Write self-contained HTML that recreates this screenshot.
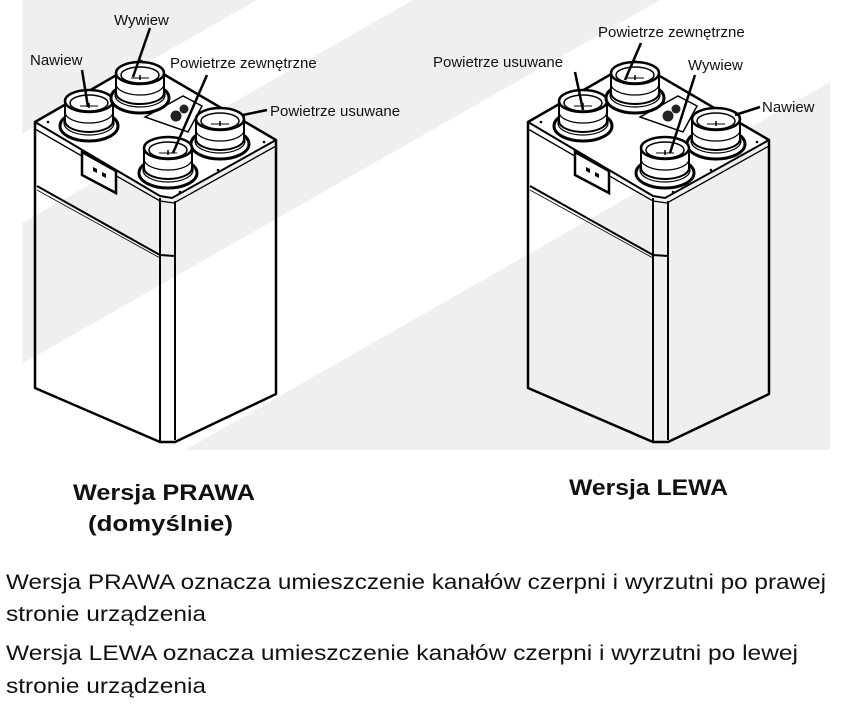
<!DOCTYPE html>
<html><head><meta charset="utf-8"><style>
html,body{margin:0;padding:0;background:#fff;width:855px;height:726px;overflow:hidden}
svg{display:block;overflow:hidden}
text{font-family:"Liberation Sans",sans-serif;fill:#111}
</style></head><body>
<svg width="855" height="726" viewBox="0 0 855 726" xmlns="http://www.w3.org/2000/svg">
<defs>
<clipPath id="bg"><rect x="22" y="0" width="808" height="450"/></clipPath>
<g id="unit">
  <path d="M35,122 L141,61 L276,140 L172,200 L160,198 Z" fill="#fff" stroke="none"/>
  <path d="M35,122 L141,61 L276,140 L276,394 L175,442 L160,442 L35,388 Z" fill="none" stroke="#000" stroke-width="2.5" stroke-linejoin="round"/>
  <path d="M35,122 L160,196 L172,198 L276,140" fill="none" stroke="#000" stroke-width="2"/>
  <path d="M35,129 L160,201 L174,203 L276,146" fill="none" stroke="#000" stroke-width="1.3"/>
  <line x1="160" y1="198" x2="160" y2="442" stroke="#000" stroke-width="2"/>
  <line x1="175" y1="201" x2="175" y2="440" stroke="#000" stroke-width="2"/>
  <path d="M37,186 L160,255 L175,256" fill="none" stroke="#000" stroke-width="2"/>
  <path d="M37,190 L160,258" fill="none" stroke="#000" stroke-width="0.8"/>
  <polygon points="82,152 116,171 116,193 82,175" fill="#fff" stroke="#000" stroke-width="2.5"/>
  <path d="M93,167 l4,2 v4 l-4,-2z M102,172 l4,2 v4 l-4,-2z" fill="#000"/>
  <circle cx="48" cy="122" r="1.3" fill="#000"/><circle cx="264" cy="142" r="1.3" fill="#000"/>
  <circle cx="218" cy="170" r="1.3" fill="#000"/><circle cx="180" cy="192" r="1.3" fill="#000"/>
</g>
<g id="port">
  <ellipse cx="0" cy="36" rx="29" ry="15" fill="#fff" stroke="#000" stroke-width="3"/>
  <ellipse cx="0" cy="33" rx="25" ry="12" fill="none" stroke="#000" stroke-width="1.2"/>
  <path d="M-24,11 L-24,31 A24,11 0 0 0 24,31 L24,11" fill="#fff" stroke="#000" stroke-width="2"/>
  <path d="M-24,22 A24,11 0 0 0 24,22" fill="none" stroke="#000" stroke-width="1.2"/>
  <ellipse cx="0" cy="11" rx="24" ry="11" fill="#fff" stroke="#000" stroke-width="2.5"/>
  <ellipse cx="0" cy="13" rx="19" ry="8" fill="none" stroke="#000" stroke-width="1.5"/>
  <line x1="-9" y1="16" x2="9" y2="16" stroke="#000" stroke-width="1"/>
  <line x1="0" y1="13" x2="0" y2="18" stroke="#000" stroke-width="1.5"/>
</g>
</defs>
<!-- background stripes -->
<g clip-path="url(#bg)">
<rect x="22" y="0" width="808" height="450" fill="#efefef"/>
<polygon points="257,0 413,0 -376,450 -532,450" fill="#fff"/>
<polygon points="660,0 974,0 185,450 -129,450" fill="#fff"/>
</g>

<!-- left unit -->
<use href="#unit"/>
<polygon points="145,117 183,96 202,106 188,132" fill="#fff" stroke="#000" stroke-width="1.5"/>
<circle cx="176" cy="116" r="5.5" fill="#222"/><circle cx="184" cy="109" r="4.5" fill="#222"/>
<use href="#port" x="89" y="90"/>
<use href="#port" x="140" y="62"/>
<use href="#port" x="220" y="108"/>
<use href="#port" x="168" y="137"/>
<g stroke="#000" stroke-width="2.5" fill="none">
<line x1="82" y1="70" x2="88" y2="107"/>
<line x1="150" y1="28" x2="133" y2="77"/>
<line x1="207" y1="75" x2="173" y2="153"/>
<line x1="267" y1="110" x2="243" y2="115"/>
</g>
<text x="30" y="65" font-size="15">Nawiew</text>
<text x="114" y="25" font-size="15">Wywiew</text>
<text x="170" y="68" font-size="15">Powietrze zewnętrzne</text>
<text x="270" y="116" font-size="15">Powietrze usuwane</text>

<!-- right unit -->
<use href="#unit" x="493"/>
<polygon points="640,117 678,96 697,106 683,132" fill="#fff" stroke="#000" stroke-width="1.5"/>
<circle cx="668" cy="116" r="5.5" fill="#222"/><circle cx="676" cy="109" r="4.5" fill="#222"/>
<use href="#port" x="583" y="90"/>
<use href="#port" x="635" y="62"/>
<use href="#port" x="716" y="108"/>
<use href="#port" x="665" y="137"/>
<g stroke="#000" stroke-width="2.5" fill="none">
<line x1="575" y1="72" x2="583" y2="110"/>
<line x1="641" y1="43" x2="625" y2="80"/>
<line x1="695" y1="75" x2="670" y2="153"/>
<line x1="760" y1="107" x2="735" y2="115"/>
</g>
<text x="433" y="67" font-size="15">Powietrze usuwane</text>
<text x="598" y="37" font-size="15">Powietrze zewnętrzne</text>
<text x="688" y="70" font-size="15">Wywiew</text>
<text x="762" y="112" font-size="15">Nawiew</text>

<!-- captions -->
<text x="73" y="500" font-size="22" font-weight="bold" textLength="182" lengthAdjust="spacingAndGlyphs">Wersja PRAWA</text>
<text x="88" y="531" font-size="22" font-weight="bold" textLength="145" lengthAdjust="spacingAndGlyphs">(domyślnie)</text>
<text x="569" y="495" font-size="22" font-weight="bold" textLength="159" lengthAdjust="spacingAndGlyphs">Wersja LEWA</text>

<text x="6" y="589" font-size="21" textLength="820" lengthAdjust="spacingAndGlyphs">Wersja PRAWA oznacza umieszczenie kanałów czerpni i wyrzutni po prawej</text>
<text x="6" y="621" font-size="21" textLength="200" lengthAdjust="spacingAndGlyphs">stronie urządzenia</text>
<text x="6" y="660" font-size="21" textLength="792" lengthAdjust="spacingAndGlyphs">Wersja LEWA oznacza umieszczenie kanałów czerpni i wyrzutni po lewej</text>
<text x="6" y="693" font-size="21" textLength="200" lengthAdjust="spacingAndGlyphs">stronie urządzenia</text>
</svg>
</body></html>
